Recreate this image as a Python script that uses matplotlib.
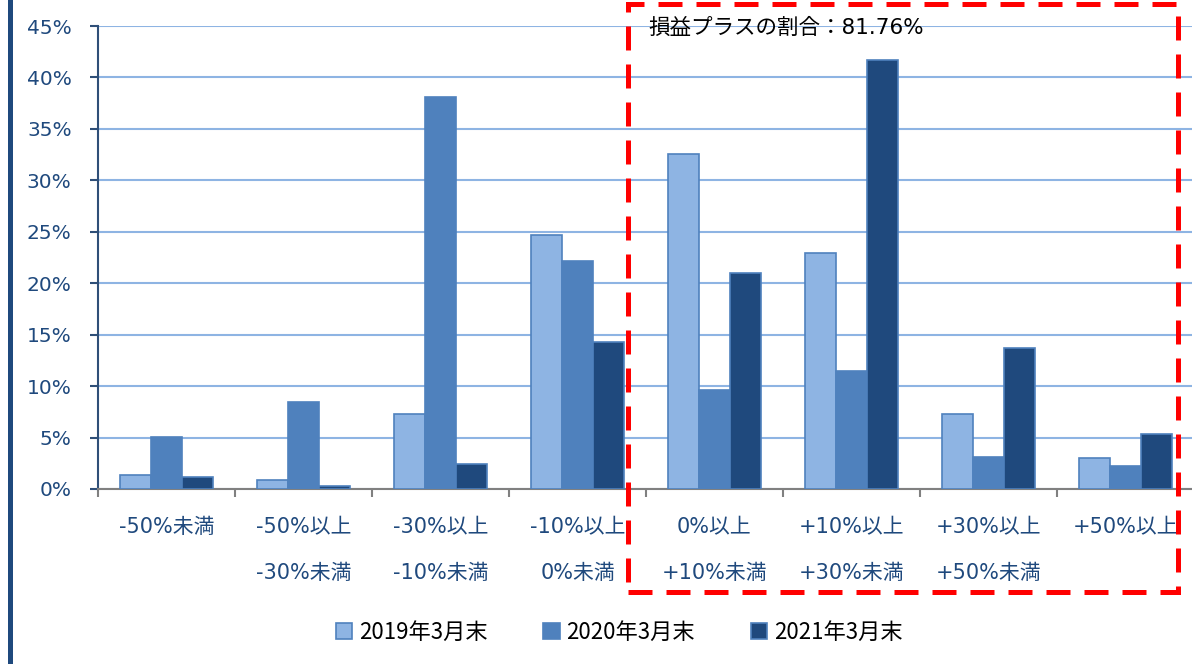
import matplotlib
matplotlib.use("Agg")
import matplotlib.pyplot as plt
import numpy as np
from matplotlib.patches import Rectangle
from matplotlib.lines import Line2D

plt.rcParams['font.family'] = ['DejaVu Sans', 'Noto Sans CJK JP']

categories = ["-50%未満", "-50%以上\n-30%未満", "-30%以上\n-10%未満", "-10%以上\n0%未満",
              "0%以上\n+10%未満", "+10%以上\n+30%未満", "+30%以上\n+50%未満", "+50%以上"]
series_names = ["2019年3月末", "2020年3月末", "2021年3月末"]
v2019 = [1.4, 0.9, 7.3, 24.7, 32.6, 22.9, 7.3, 3.0]
v2020 = [5.1, 8.5, 38.1, 22.2, 9.6, 11.5, 3.1, 2.2]
v2021 = [1.2, 0.3, 2.4, 14.3, 21.0, 41.7, 13.7, 5.3]
yticks = [0, 5, 10, 15, 20, 25, 30, 35, 40, 45]
note = "損益プラスの割合：81.76%"

colors = ["#8EB4E3", "#4F81BD", "#1F497D"]
label_color = "#1F497D"

W, H = 1192, 664
fig = plt.figure(figsize=(W / 100, H / 100), dpi=100)
ax = fig.add_axes([98 / W, 1 - 489 / H, (1194 - 98) / W, (489 - 26) / H])

x = np.arange(len(categories))
bw = 0.227
for i, (vals, c) in enumerate(zip([v2019, v2020, v2021], colors)):
    ax.bar(x + (i - 1) * bw, vals, bw, color=c, edgecolor="#4F81BD", linewidth=1.2,
           label=series_names[i], zorder=3)

ax.set_xlim(-0.5, len(categories) - 0.5)
ax.set_ylim(0, 45)
ax.set_yticks(yticks)
ax.set_yticklabels([f"{t}%" for t in yticks])
ax.yaxis.grid(True, color="#8EB4E3", linewidth=1.5, zorder=0)
ax.set_axisbelow(True)

ax.set_xticks(x)
ax.set_xticklabels(categories)
ax.set_xticks(np.arange(-0.5, len(categories)), minor=True)
ax.tick_params(axis="x", which="major", length=0, pad=20, labelsize=15, labelcolor=label_color)
ax.tick_params(axis="x", which="minor", length=6, width=1.5, color="#808080", direction="out")
ax.tick_params(axis="y", length=6, width=1.5, color="#2F4F78", labelsize=14.5,
               labelcolor=label_color, pad=13)
for lbl in ax.get_xticklabels():
    lbl.set_linespacing(2.65)
    lbl.set_verticalalignment("top")

for s in ["top", "right"]:
    ax.spines[s].set_visible(False)
ax.spines["left"].set_color("#2F4F78")
ax.spines["left"].set_linewidth(1.5)
ax.spines["bottom"].set_color("#808080")
ax.spines["bottom"].set_linewidth(1.5)

# thick bar at left edge
fig.add_artist(Line2D([10 / W, 10 / W], [0, 1], color="#1F497D", linewidth=3.6))

# red dashed box
rect = Rectangle((628 / W, 1 - 592 / H), (1178 - 628) / W, (592 - 4) / H,
                 transform=fig.transFigure, fill=False, edgecolor="#FF0000",
                 linewidth=3.6, linestyle=(0, (4.8, 2.8)), zorder=10)
fig.add_artist(rect)
fig.text(648 / W, 1 - 28 / H, note, fontsize=15.5, color="black", va="center", ha="left")

fig.legend(loc="center", bbox_to_anchor=(619 / W, 1 - 632 / H), ncol=3, frameon=False,
           prop={"family": ["Noto Sans CJK JP", "DejaVu Sans"], "size": 16},
           handlelength=0.75, handleheight=0.75, handletextpad=0.3,
           columnspacing=2.5)

fig.savefig("out.png", dpi=100)
